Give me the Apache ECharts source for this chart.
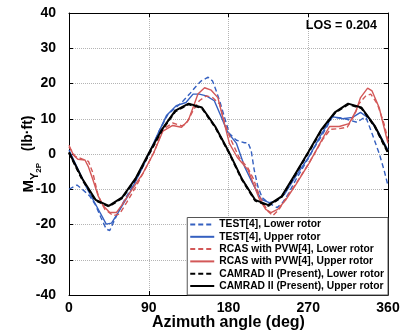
<!DOCTYPE html>
<html><head><meta charset="utf-8">
<script src="https://cdn.jsdelivr.net/npm/echarts@6/dist/echarts.min.js"></script>
<style>html,body{margin:0;padding:0;background:#fff}#c{width:401px;height:332px}</style>
</head><body><div id="c"></div>
<script>
const xTicks = [0, 90, 180, 270, 360];
const yTicks = [-40, -30, -20, -10, 0, 10, 20, 30, 40];
const seriesNames = ['TEST[4], Lower rotor','TEST[4], Upper rotor','RCAS with PVW[4], Lower rotor','RCAS with PVW[4], Upper rotor','CAMRAD II (Present), Lower rotor','CAMRAD II (Present), Upper rotor'];
const losText = 'LOS = 0.204';

const azTestLower  = [0,5,9,15,23.6,30,36,42,46,50,57,65,74,85,95,102,112,120,129,136,142,149,157,162,166,170,175.5,181,189,198,202,205.5,209,213,218,226,235,241,247,256,266,276,286,297,305,312,318,325,331,335,338,342,350,355.5,360];
const valTestLower = [-10,-9.3,-8.8,-10,-12,-14.5,-18,-21.3,-21.7,-19.5,-15.7,-12,-8.2,-2.5,2.5,6.7,11.4,13,15.1,17,18.8,20.7,21.8,20.7,18,15.1,10.4,5.8,3.9,3.2,3.2,1.1,-4.5,-9.1,-12.4,-14,-15.2,-13.8,-11.5,-7.3,-3,1.5,5.5,10.4,10.3,10,9.5,9,10,10.4,8.5,5.8,0.2,-4.5,-9];

const azTestUpper  = [0,8.6,20,27,35,42,48,55.5,68.6,83.6,98.6,110,121,132,140,147,155,164,172,179,189,198,207,217,226,234,243,256,271,284,297,309,320,329,339,350,360];
const valTestUpper = [1.1,-3.5,-9.6,-12.9,-16.6,-19.9,-19.6,-16.6,-11,-3.5,4.8,10.9,13.7,14.6,17,17,16.5,15.1,10.4,6.2,3,-3.5,-8.2,-12.9,-13.8,-13.3,-11.5,-6.3,-0.7,5.3,10.6,10,10.4,11.8,10,5.8,1.1];

const azRcasLower  = [0,7,16,22,27,33,40.5,50,57,65,75,85,96,106,117,127,132,140,147,155,162,170,175.5,183,192,202,208,215,224,230,237,245,256,271,286,295,305,314,322,327,335,340.5,348,355.5,360];
const valRcasLower = [2,-0.7,-1.5,-2.1,-5.4,-11.9,-15.7,-17.5,-17,-13.8,-9.5,-4.8,0.5,7,8.8,8,8.5,12.3,15.1,16.5,16,14.2,9,3.9,-1,-4,-7,-11.9,-16.1,-17.5,-15.7,-12.5,-8.5,-2.5,4,7,7.2,7.6,10.9,14.2,16.5,17,14.2,8.6,3.9];

const azRcasUpper  = [0,5,10,18,21.7,27,33,38.6,46,53.6,59,68.6,83.6,95,106,117,127,134.6,140,145.5,153,160.5,168,173.6,181,190,202,207,215,222,228,235.5,245,256,271,286,294,305,316,324,329,337,342,350,355.5,360];
const valRcasUpper = [2.5,-0.3,-1.5,-1.7,-3.5,-7.3,-11.9,-14.7,-16.6,-16.6,-14.7,-11,-5.4,0,6.5,8.1,7.6,9.5,13.2,17,18.8,18.1,16,10.4,3,-1,-4.5,-7.7,-12.9,-15.7,-16.6,-15.7,-12.9,-8.7,-2.6,4.3,7.8,7.8,8.6,12.3,16,18.7,17.9,13.2,7.6,3];

const azCamrad       = [0,15,30,45,60,75,90,105,120,135,150,165,180,195,210,225,240,255,270,285,300,315,330,345,360];
const valCamradLower = [0.3,-7.3,-13.2,-14.9,-12.5,-7.2,-0.2,6.8,12.1,14.1,13.0,7.6,0.6,-7.2,-13.2,-14.7,-12.2,-6,0.3,6.8,11.6,14.1,13,7.8,0.3];
const valCamradUpper = [0.5,-7,-13,-14.7,-12.3,-7,0.2,7,12.3,14.3,13.2,7.8,0.8,-7,-13,-14.5,-12,-5.8,0.5,7,11.8,14.3,13.2,8,0.6];

function zip(a, b) { return a.map((x, i) => [x, b[i]]); }

const BLUE = '#3560c0', RED = '#d35858', BLACK = '#000000';
const defs = [
  [azTestLower, valTestLower, BLUE, [5, 3], 1.4],
  [azTestUpper, valTestUpper, BLUE, 'solid', 1.4],
  [azRcasLower, valRcasLower, RED, [5, 3], 1.4],
  [azRcasUpper, valRcasUpper, RED, 'solid', 1.4],
  [azCamrad, valCamradLower, BLACK, [5, 3], 2],
  [azCamrad, valCamradUpper, BLACK, 'solid', 2]
];
const series = defs.map((d, i) => ({
  name: seriesNames[i], type: 'line', symbol: 'none', smooth: false,
  data: zip(d[0], d[1]), color: d[2],
  lineStyle: { color: d[2], type: d[3], width: d[4] },
  z: i >= 4 ? 4 : 3, animation: false
}));

const chart = echarts.init(document.getElementById('c'), null, { renderer: 'canvas' });
const bold = { fontFamily: 'Arial, "Liberation Sans", sans-serif', fontWeight: 'bold', color: '#000' };
chart.setOption({
  animation: false,
  backgroundColor: '#fff',
  title: { text: losText, right: 19, top: 14, textStyle: Object.assign({}, bold, { fontSize: 12.5 }) },
  grid: { left: 69, right: 13, top: 13, bottom: 37, containLabel: false, outerBoundsMode: 'none' },
  legend: {
    orient: 'vertical', right: 13, bottom: 37, data: seriesNames,
    itemWidth: 24, itemHeight: 10, itemGap: 0.3,
    padding: [1, 4, 3, 2],
    backgroundColor: '#fff', borderColor: '#555', borderWidth: 1,
    itemStyle: { color: 'transparent', borderColor: 'transparent', borderWidth: 0, opacity: 0 },
    textStyle: Object.assign({}, bold, { fontSize: 10.3, lineHeight: 12 })
  },
  xAxis: [{
    type: 'value', min: 0, max: 360, interval: 90,
    axisLine: { onZero: false, lineStyle: { color: '#000', width: 1 } },
    axisTick: { inside: true, length: 4, lineStyle: { color: '#000' } },
    axisLabel: Object.assign({}, bold, { fontSize: 14, margin: 6, formatter: v => xTicks.includes(v) ? String(v) : '' }),
    splitLine: { show: true, lineStyle: { color: '#b4b4b4', type: 'dotted', width: 1 } },
    name: 'Azimuth angle (deg)', nameLocation: 'middle', nameGap: 20, nameMoveOverlap: false,
    nameTextStyle: Object.assign({}, bold, { fontSize: 16 })
  }, {
    type: 'value', min: 0, max: 360, interval: 90, position: 'top',
    axisLine: { onZero: false, lineStyle: { color: '#000', width: 1 } },
    axisTick: { inside: true, length: 4, lineStyle: { color: '#000' } },
    axisLabel: { show: false }, splitLine: { show: false }
  }],
  yAxis: [{
    type: 'value', min: -40, max: 40, interval: 10,
    axisLine: { show: true, onZero: false, lineStyle: { color: '#000', width: 1 } },
    axisTick: { show: true, inside: true, length: 4, lineStyle: { color: '#000' } },
    axisLabel: Object.assign({}, bold, { fontSize: 14, margin: 13, formatter: v => yTicks.includes(v) ? String(v) : '' }),
    splitLine: { show: true, lineStyle: { color: '#b4b4b4', type: 'dotted', width: 1 } },
    name: '{m|M}{y|Y}{p|2P}{s|   (lb·ft)}', nameLocation: 'middle', nameGap: 32, nameRotate: 90, nameMoveOverlap: false,
    nameTextStyle: {
      rich: {
        m: Object.assign({}, bold, { fontSize: 15, lineHeight: 16, verticalAlign: 'top' }),
        y: Object.assign({}, bold, { fontSize: 11, lineHeight: 11, verticalAlign: 'top', padding: [8, 0, 0, 0] }),
        p: Object.assign({}, bold, { fontSize: 8, lineHeight: 9, verticalAlign: 'top', padding: [14, 0, 0, 0] }),
        s: Object.assign({}, bold, { fontSize: 14, lineHeight: 16, verticalAlign: 'top' })
      }
    }
  }, {
    type: 'value', min: -40, max: 40, interval: 10, position: 'right',
    axisLine: { show: true, onZero: false, lineStyle: { color: '#000', width: 1 } },
    axisTick: { show: true, inside: true, length: 4, lineStyle: { color: '#000' } },
    axisLabel: { show: false }, splitLine: { show: false }
  }],
  series: series
});
</script></body></html>
